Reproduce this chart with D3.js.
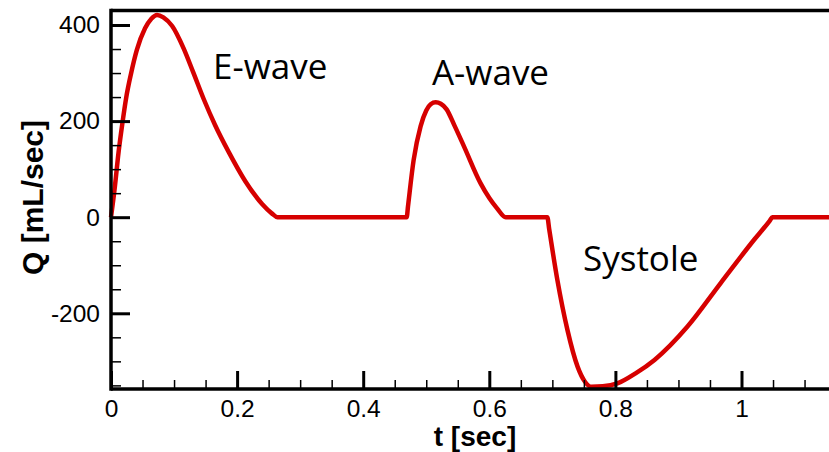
<!DOCTYPE html>
<html>
<head>
<meta charset="utf-8">
<script src="https://cdn.jsdelivr.net/npm/d3@7"></script>
<style>
  html, body { margin: 0; padding: 0; background: #fff; }
  svg { display: block; }
</style>
</head>
<body>
<svg id="chart" width="829" height="452"></svg>
<script>
// Mitral inflow over one cardiac cycle: time [s] and flow rate Q [mL/s]
const timeSec = [
  0, 0.006, 0.012, 0.018, 0.024, 0.032, 0.041, 0.054, 0.064, 0.073, 0.083, 0.097,
  0.115, 0.130, 0.147, 0.165, 0.187, 0.213, 0.240, 0.255, 0.264,
  0.469, 0.471, 0.480, 0.491, 0.500, 0.507, 0.515, 0.523, 0.532, 0.545, 0.560,
  0.586, 0.600, 0.612, 0.626,
  0.692, 0.695, 0.708, 0.724, 0.740, 0.752, 0.762, 0.780, 0.803, 0.832, 0.862,
  0.914, 0.967, 1.020, 1.045, 1.049, 1.150
];
const flowQ = [
  0, 62, 135, 195, 248, 300, 348, 393, 413, 421, 416, 398,
  352, 303, 246, 192, 135, 75, 27, 8, 0,
  0, 22, 119, 189, 222, 235, 239, 236, 225, 190, 147,
  71, 40, 19, 0,
  0, -25, -131, -235, -311, -343, -353, -352, -346, -325, -297,
  -228, -137, -47, -7, 0, 0
];

// Axis ticks
const xMajorTicks = [0, 0.2, 0.4, 0.6, 0.8, 1];
const xMinorTicks = [0.05, 0.1, 0.15, 0.25, 0.3, 0.35, 0.45, 0.5, 0.55, 0.65, 0.7, 0.75, 0.85, 0.9, 0.95, 1.05, 1.1];
const yMajorTicks = [-200, 0, 200, 400];
const yMinorTicks = [-350, -300, -250, -150, -100, -50, 50, 100, 150, 250, 300, 350];

// Phase annotations
const phaseNames = ["E-wave", "A-wave", "Systole"];
const phaseT = [0.1618, 0.509, 0.7486];
const phaseQ = [287.6, 275, -112];

const svg = d3.select("#chart");

const x = d3.scaleLinear().domain([0, 1]).range([111, 741.5]);
const y = d3.scaleLinear().domain([-200, 400]).range([313.3, 25]);

const plotLeft = 111, plotTop = 10.5, plotBottom = 389, plotRight = 860;

const tickFont = "'Liberation Sans', Arial, sans-serif";
const plainNumber = d => String(d);

// flow curve
const points = timeSec.map((t, i) => [t, flowQ[i]]);
const line = d3.line()
  .x(d => x(d[0]))
  .y(d => y(d[1]))
  .curve(d3.curveMonotoneX);

svg.append("path")
  .datum(points)
  .attr("d", line)
  .attr("fill", "none")
  .attr("stroke", "#d60000")
  .attr("stroke-width", 4.5)
  .attr("stroke-linejoin", "round");

// bottom axis (ticks point into the plot)
svg.append("g").attr("transform", `translate(0,${plotBottom})`)
  .call(d3.axisBottom(x).tickValues(xMinorTicks).tickFormat("").tickSizeInner(-9).tickSizeOuter(0))
  .call(g => g.select(".domain").remove())
  .call(g => g.selectAll(".tick line").attr("stroke", "#000").attr("stroke-width", 1.5));
svg.append("g").attr("transform", `translate(0,${plotBottom})`)
  .call(d3.axisBottom(x).tickValues(xMajorTicks).tickFormat(plainNumber).tickSizeInner(-18).tickSizeOuter(0).tickPadding(11))
  .call(g => g.select(".domain").remove())
  .call(g => g.selectAll(".tick line").attr("stroke", "#000").attr("stroke-width", 3))
  .call(g => g.selectAll(".tick text").attr("fill", "#000").style("font-family", tickFont).style("font-size", "24.5px"));

// left axis
svg.append("g").attr("transform", `translate(${plotLeft},0)`)
  .call(d3.axisLeft(y).tickValues(yMinorTicks).tickFormat("").tickSizeInner(-10).tickSizeOuter(0))
  .call(g => g.select(".domain").remove())
  .call(g => g.selectAll(".tick line").attr("stroke", "#000").attr("stroke-width", 1.5));
svg.append("g").attr("transform", `translate(${plotLeft},0)`)
  .call(d3.axisLeft(y).tickValues(yMajorTicks).tickFormat(plainNumber).tickSizeInner(-19).tickSizeOuter(0).tickPadding(11))
  .call(g => g.select(".domain").remove())
  .call(g => g.selectAll(".tick line").attr("stroke", "#000").attr("stroke-width", 3))
  .call(g => g.selectAll(".tick text").attr("fill", "#000").style("font-family", tickFont).style("font-size", "24.5px"));

// frame: left, bottom and top borders
const frame = svg.append("g").attr("stroke", "#000").attr("stroke-width", 3.5).attr("fill", "none");
frame.append("line").attr("x1", plotLeft).attr("x2", plotLeft).attr("y1", plotTop - 1.75).attr("y2", plotBottom + 1.75);
frame.append("line").attr("x1", plotLeft).attr("x2", plotRight).attr("y1", plotBottom).attr("y2", plotBottom);
frame.append("line").attr("x1", plotLeft).attr("x2", plotRight).attr("y1", plotTop).attr("y2", plotTop);

// axis titles
svg.append("text")
  .attr("x", 475).attr("y", 446)
  .attr("text-anchor", "middle")
  .style("font-family", tickFont).style("font-weight", "bold").style("font-size", "28px")
  .text("t [sec]");

svg.append("text")
  .attr("transform", "translate(43,197.5) rotate(-90)")
  .attr("text-anchor", "middle")
  .style("font-family", tickFont).style("font-weight", "bold").style("font-size", "30px")
  .text("Q [mL/sec]");

// phase annotations
svg.append("g").selectAll("text")
  .data(phaseNames)
  .join("text")
  .attr("x", (d, i) => x(phaseT[i]))
  .attr("y", (d, i) => y(phaseQ[i]))
  .style("font-family", "'Open Sans', sans-serif")
  .style("font-size", "35px")
  .attr("fill", "#000")
  .text(d => d);
</script>
</body>
</html>
